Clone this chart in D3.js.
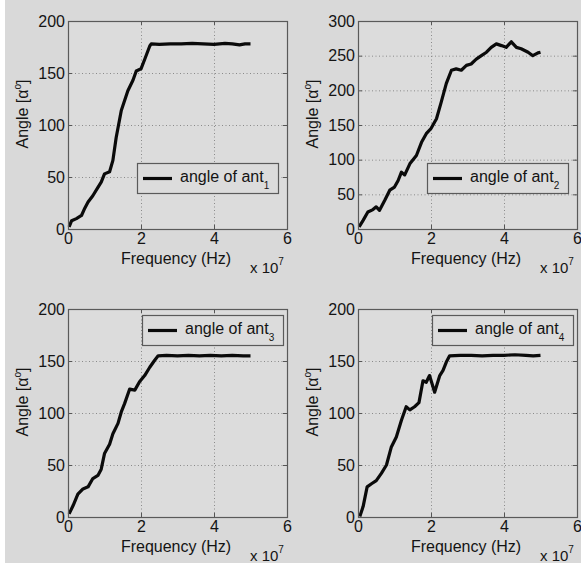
<!DOCTYPE html>
<html>
<head>
<meta charset="utf-8">
<script src="https://cdn.jsdelivr.net/npm/d3@7"></script>
<style>
  html, body { margin: 0; padding: 0; background: #ffffff; }
  svg { display: block; }
  text { font-family: "Liberation Sans", Arial, Helvetica, sans-serif; fill: #141414; }
</style>
</head>
<body>
<svg id="fig" width="581" height="568"></svg>
<script>
// Frequency axis in units of 1e7 Hz
const xTicks = [0, 2, 4, 6];

// Phase angle of each antenna versus frequency (x in 1e7 Hz, y in degrees)
const ant1X = [0.03, 0.1, 0.23, 0.37, 0.46, 0.55, 0.68, 0.82, 0.91, 1.0, 1.14, 1.23, 1.32, 1.46, 1.64, 1.78, 1.87, 2.0, 2.1, 2.24, 2.28, 2.5, 2.8, 3.1, 3.4, 3.7, 4.0, 4.3, 4.5, 4.7, 4.85, 5.0];
const ant1Y = [2, 8, 10, 13, 20, 26, 32, 40, 45, 53, 55, 66, 88, 114, 133, 143, 152, 154, 163, 176, 178, 177.5, 178, 178, 178.5, 178, 177.5, 178.5, 178, 177, 178, 178];

const ant2X = [0.03, 0.14, 0.27, 0.41, 0.5, 0.59, 0.73, 0.87, 1.0, 1.1, 1.19, 1.28, 1.42, 1.6, 1.74, 1.87, 2.0, 2.15, 2.28, 2.42, 2.56, 2.69, 2.83, 2.97, 3.1, 3.24, 3.38, 3.52, 3.65, 3.79, 3.93, 4.06, 4.2, 4.34, 4.47, 4.66, 4.79, 4.93, 5.0];
const ant2Y = [3, 12.5, 24.5, 28, 32, 27, 41, 56, 60.5, 70, 82, 78, 94, 106, 125, 137.5, 145, 159, 183, 210, 229, 231, 229, 236, 238, 245, 250, 255, 262, 267, 264.5, 262, 270, 262, 260, 255, 250, 254, 255];

const ant3X = [0.03, 0.14, 0.27, 0.41, 0.55, 0.68, 0.82, 0.91, 1.0, 1.14, 1.23, 1.37, 1.46, 1.55, 1.69, 1.83, 1.96, 2.1, 2.24, 2.37, 2.47, 2.7, 3.0, 3.3, 3.6, 3.9, 4.2, 4.5, 4.8, 5.0];
const ant3Y = [3, 11, 22, 27, 29, 37, 40, 46, 61, 70, 80, 90, 101, 109, 123, 122, 130, 136, 144, 150.5, 155, 155.5, 155, 155.5, 155, 155.5, 155, 155.5, 155, 155];

const ant4X = [0.05, 0.14, 0.25, 0.37, 0.5, 0.64, 0.78, 0.91, 1.05, 1.19, 1.32, 1.42, 1.55, 1.67, 1.78, 1.87, 1.96, 2.1, 2.24, 2.33, 2.42, 2.51, 2.8, 3.1, 3.4, 3.7, 4.0, 4.3, 4.6, 4.8, 5.0];
const ant4Y = [0.5, 10, 29, 32, 35, 42, 50, 67, 77, 93, 106, 103, 106, 110, 131, 129.5, 136, 120, 136, 141, 149, 155, 155.5, 155.5, 155, 155.5, 155.5, 156, 155.5, 155, 155.5];

const panels = [
  { xs: ant1X, ys: ant1Y, sub: "1", yMax: 200, yTicks: [0, 50, 100, 150, 200], col: 0, row: 0, legend: "lowerRight" },
  { xs: ant2X, ys: ant2Y, sub: "2", yMax: 300, yTicks: [0, 50, 100, 150, 200, 250, 300], col: 1, row: 0, legend: "lowerRight" },
  { xs: ant3X, ys: ant3Y, sub: "3", yMax: 200, yTicks: [0, 50, 100, 150, 200], col: 0, row: 1, legend: "upperRight" },
  { xs: ant4X, ys: ant4Y, sub: "4", yMax: 200, yTicks: [0, 50, 100, 150, 200], col: 1, row: 1, legend: "upperRight" }
];

const svg = d3.select("#fig");
const W = 581, H = 568;

// Figure background (white margin strip on the left and bottom)
svg.append("rect").attr("width", W).attr("height", H).attr("fill", "#ffffff");
svg.append("rect").attr("x", 5).attr("y", 0).attr("width", W - 5).attr("height", H - 5).attr("fill", "#d9d9d9");

const axW = 219, axH = 208;
const lefts = [68, 358], tops = [21, 309];
const fs = 16;

panels.forEach(p => {
  const x0 = lefts[p.col], y0 = tops[p.row];
  const g = svg.append("g").attr("transform", `translate(${x0},${y0})`);
  const x = d3.scaleLinear().domain([0, 6]).range([0, axW]);
  const y = d3.scaleLinear().domain([0, p.yMax]).range([axH, 0]);

  g.append("rect").attr("width", axW).attr("height", axH).attr("fill", "#dcdcdc");

  // Dotted grid
  const grid = g.append("g").attr("stroke", "#8a8a8a").attr("stroke-width", 1).attr("stroke-dasharray", "1,2.5");
  xTicks.slice(1, -1).forEach(t => {
    grid.append("line").attr("x1", x(t) + 0.5).attr("x2", x(t) + 0.5).attr("y1", 0).attr("y2", axH);
  });
  p.yTicks.slice(1, -1).forEach(t => {
    grid.append("line").attr("x1", 0).attr("x2", axW).attr("y1", y(t) + 0.5).attr("y2", y(t) + 0.5);
  });

  // Data line
  const pts = p.xs.map((v, i) => [v, p.ys[i]]);
  g.append("path")
    .datum(pts)
    .attr("fill", "none")
    .attr("stroke", "#0a0a0a")
    .attr("stroke-width", 3.2)
    .attr("stroke-linejoin", "round")
    .attr("d", d3.line().x(d => x(d[0])).y(d => y(d[1])));

  // Axes with inward ticks on all four sides
  const tk = 4;
  g.append("g").attr("transform", `translate(0,${axH})`)
    .call(d3.axisBottom(x).tickValues(xTicks).tickSize(-tk).tickPadding(4).tickFormat(d3.format("d")))
    .call(a => a.select(".domain").remove());
  g.append("g").attr("transform", `translate(0,0)`)
    .call(d3.axisTop(x).tickValues(xTicks).tickSize(-tk).tickFormat(""))
    .call(a => a.select(".domain").remove());
  g.append("g")
    .call(d3.axisLeft(y).tickValues(p.yTicks).tickSize(-tk).tickPadding(3).tickFormat(d3.format("d")))
    .call(a => a.select(".domain").remove());
  g.append("g").attr("transform", `translate(${axW},0)`)
    .call(d3.axisRight(y).tickValues(p.yTicks).tickSize(-tk).tickFormat(""))
    .call(a => a.select(".domain").remove());
  g.selectAll(".tick line").attr("stroke", "#555");
  g.selectAll(".tick text").attr("font-size", fs).attr("fill", "#141414")
    .attr("font-family", "'Liberation Sans', Arial, sans-serif");

  g.append("rect").attr("x", 0.5).attr("y", 0.5).attr("width", axW).attr("height", axH)
    .attr("fill", "none").attr("stroke", "#5a5a5a").attr("stroke-width", 1.2);

  // Axis labels
  g.append("text").attr("x", 108).attr("y", axH + 35).attr("text-anchor", "middle")
    .attr("font-size", fs).text("Frequency (Hz)");
  const ex = g.append("text").attr("x", axW - 37).attr("y", axH + 44).attr("font-size", 15);
  ex.append("tspan").text("x 10");
  ex.append("tspan").attr("dy", -8).attr("font-size", 10).text("7");

  const yl = g.append("text")
    .attr("transform", `translate(${-40},${axH / 2 - 11}) rotate(-90)`)
    .attr("text-anchor", "middle").attr("font-size", fs);
  yl.append("tspan").text("Angle [α");
  yl.append("tspan").attr("dy", -7).attr("font-size", 10).text("o");
  yl.append("tspan").attr("dy", 7).text("]");

  // Legend
  const lw = 141, lh = 30;
  const lx = p.legend === "lowerRight" ? axW - 150 : axW - 145;
  const ly = p.legend === "lowerRight" ? axH - 66 : 6;
  const lg = g.append("g").attr("transform", `translate(${lx},${ly})`);
  lg.append("rect").attr("x", 0.5).attr("y", 0.5).attr("width", lw).attr("height", lh)
    .attr("fill", "#dcdcdc").attr("stroke", "#5a5a5a").attr("stroke-width", 1.2);
  lg.append("line").attr("x1", 6).attr("x2", 35).attr("y1", 15.5).attr("y2", 15.5)
    .attr("stroke", "#0a0a0a").attr("stroke-width", 3.2);
  const lt = lg.append("text").attr("x", 43).attr("y", 18.5).attr("font-size", fs);
  lt.append("tspan").text("angle of ant");
  lt.append("tspan").attr("dy", 7).attr("font-size", 10).text(p.sub);
});
</script>
</body>
</html>
